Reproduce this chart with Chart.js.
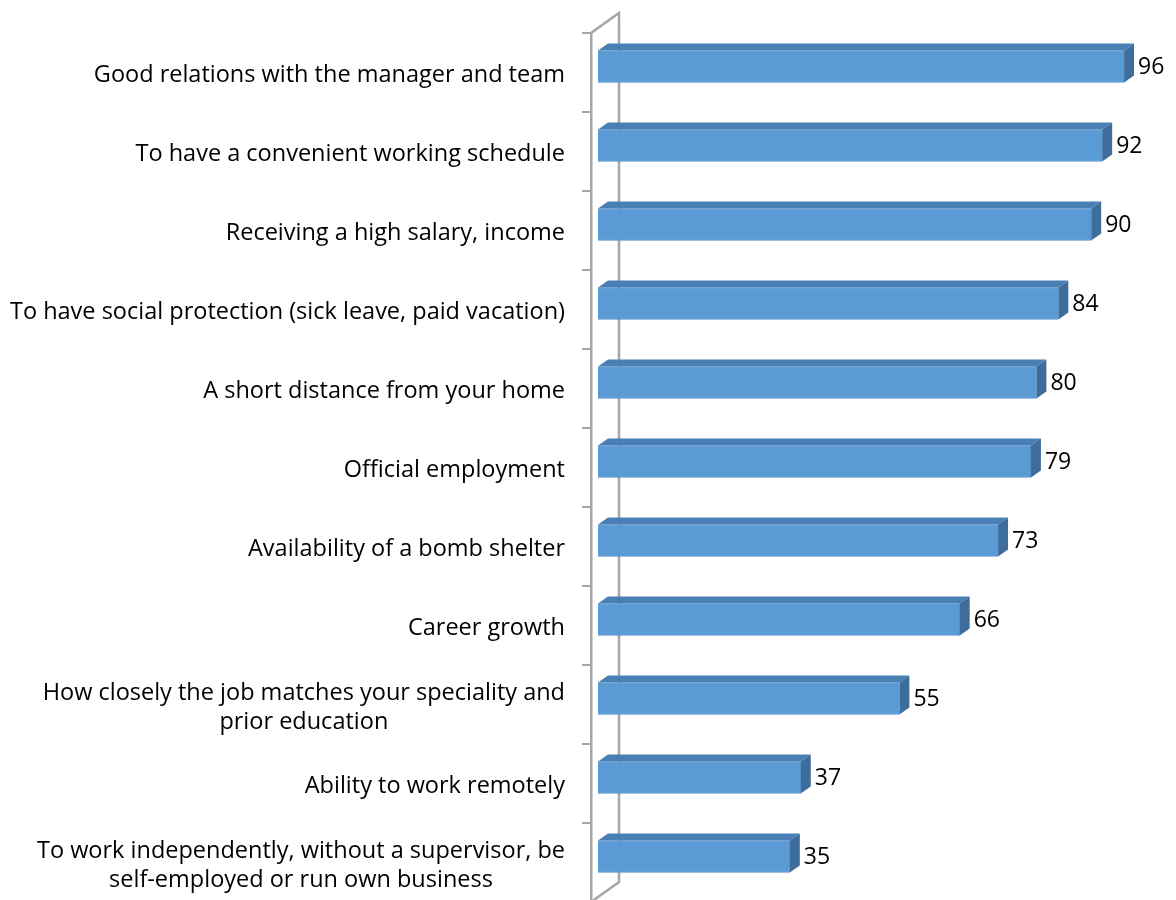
<!DOCTYPE html>
<html>
<head>
<meta charset="utf-8">
<script src="https://cdn.jsdelivr.net/npm/chart.js@4.4.0/dist/chart.umd.min.js"></script>
<style>
  html, body { margin: 0; padding: 0; background: #fff; overflow: hidden; }
  #wrap { width: 1176px; height: 900px; overflow: hidden; }
  #box { width: 1176px; height: 902px; position: relative; }
</style>
</head>
<body>
<div id="wrap"><div id="box"><canvas id="chart"></canvas></div></div>
<script>
var labels = [
  ['Good relations with the manager and team'],
  ['To have a convenient working schedule'],
  ['Receiving a high salary, income'],
  ['To have social protection (sick leave, paid vacation)'],
  ['A short distance from your home'],
  ['Official employment'],
  ['Availability of a bomb shelter'],
  ['Career growth'],
  ['How closely the job matches your speciality and', 'prior education'],
  ['Ability to work remotely'],
  ['To work independently, without a supervisor, be', 'self-employed or run own business']
];
var values = [96, 92, 90, 84, 80, 79, 73, 66, 55, 37, 35];

var FRONT = '#5b9bd5';
var TOP = '#4a7fb5';
var SIDE = '#3e6d9c';
var WALL_COLOR = '#a6a6a6';
var depth = { x: 10, y: -7 };   // thickness of each bar
var shift = { x: 7, y: -6 };    // bars sit a bit behind the front wall
var wall = { x: 28, y: -20 };   // depth of the axis wall
var catFont = '23.5px "Open Sans"';
var valFont = '23px "Open Sans"';

var box3d = {
  id: 'box3d',
  beforeDatasetsDraw: function(chart) {
    var ctx = chart.ctx, a = chart.chartArea;
    // back edge of the axis wall
    ctx.save();
    ctx.strokeStyle = WALL_COLOR;
    ctx.lineWidth = 2.5;
    ctx.beginPath();
    ctx.moveTo(a.left, a.top);
    ctx.lineTo(a.left + wall.x, a.top + wall.y);
    ctx.lineTo(a.left + wall.x, a.bottom + wall.y);
    ctx.lineTo(a.left, a.bottom);
    ctx.stroke();
    ctx.restore();

    ctx.save();
    ctx.translate(shift.x, shift.y);
    chart.getDatasetMeta(0).data.forEach(function(bar) {
      var top = bar.y - bar.height / 2, bot = bar.y + bar.height / 2;
      ctx.fillStyle = TOP;
      ctx.beginPath();
      ctx.moveTo(bar.base, top);
      ctx.lineTo(bar.base + depth.x, top + depth.y);
      ctx.lineTo(bar.x + depth.x, top + depth.y);
      ctx.lineTo(bar.x, top);
      ctx.closePath();
      ctx.fill();
      ctx.fillStyle = SIDE;
      ctx.beginPath();
      ctx.moveTo(bar.x, top);
      ctx.lineTo(bar.x + depth.x, top + depth.y);
      ctx.lineTo(bar.x + depth.x, bot + depth.y);
      ctx.lineTo(bar.x, bot);
      ctx.closePath();
      ctx.fill();
    });
    // front faces are drawn by the bar controller inside this translation
  },
  afterDatasetsDraw: function(chart) {
    var ctx = chart.ctx;
    ctx.restore();
    ctx.save();
    ctx.font = valFont;
    ctx.fillStyle = '#000';
    ctx.textAlign = 'left';
    ctx.textBaseline = 'middle';
    chart.getDatasetMeta(0).data.forEach(function(bar, i) {
      ctx.fillText(values[i], bar.x + shift.x + depth.x + 4, bar.y + shift.y + 1);
    });
    ctx.restore();
  },
  afterDraw: function(chart) {
    // category names: block right-aligned, lines centred within the block
    var ctx = chart.ctx, sy = chart.scales.y;
    ctx.save();
    ctx.font = catFont;
    ctx.fillStyle = '#000';
    ctx.textAlign = 'center';
    ctx.textBaseline = 'middle';
    var right = chart.chartArea.left - 26, lh = 29;
    labels.forEach(function(lines, i) {
      var w = Math.max.apply(null, lines.map(function(t) { return ctx.measureText(t).width; }));
      var cx = right - w / 2, cy = sy.getPixelForValue(i) + 3;
      lines.forEach(function(t, j) {
        ctx.fillText(t, cx, cy + (j - (lines.length - 1) / 2) * lh);
      });
    });
    ctx.restore();
  }
};

new Chart(document.getElementById('chart'), {
  type: 'bar',
  data: {
    labels: labels,
    datasets: [{
      data: values,
      backgroundColor: FRONT,
      borderColor: '#5590c8',
      borderWidth: 1,
      barThickness: 32
    }]
  },
  options: {
    indexAxis: 'y',
    responsive: true,
    maintainAspectRatio: false,
    animation: false,
    layout: { padding: { top: 33, right: 37, bottom: 0, left: 0 } },
    plugins: { legend: { display: false }, tooltip: { enabled: false } },
    scales: {
      x: { display: false, min: 0, max: 100 },
      y: {
        afterFit: function(scale) { scale.width = 591; },
        ticks: { display: false },
        grid: { drawOnChartArea: false, drawTicks: true, tickLength: 9, color: WALL_COLOR, lineWidth: 2 },
        border: { display: true, color: WALL_COLOR, width: 2.5 }
      }
    }
  },
  plugins: [box3d]
});
</script>
</body>
</html>
